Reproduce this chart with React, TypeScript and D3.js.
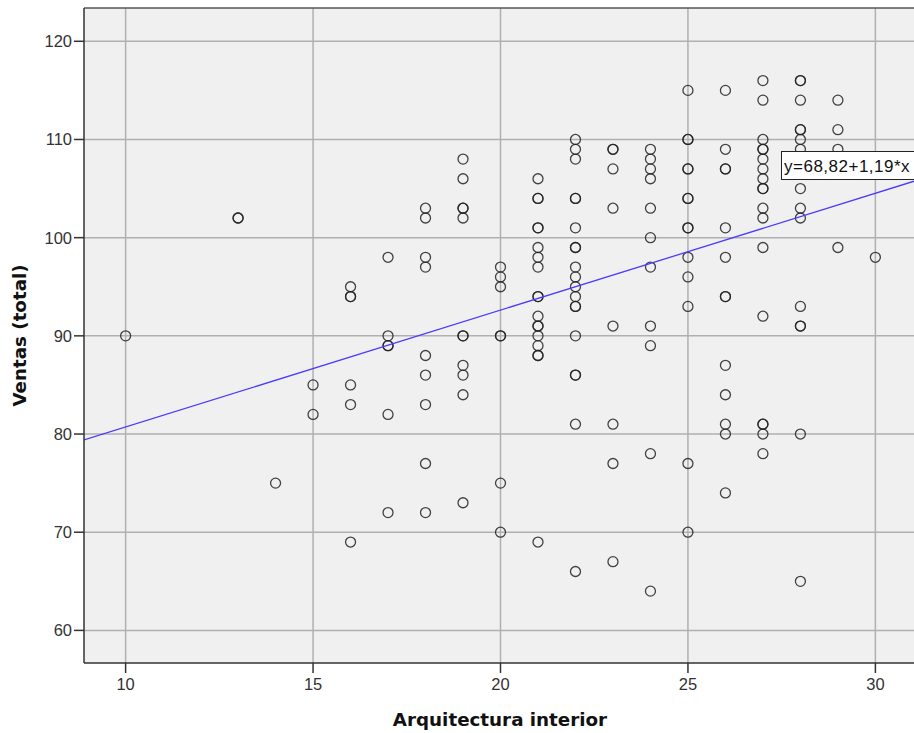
import React from "react";
import * as d3 from "d3";

// Puntuación de arquitectura interior (eje X) y ventas observadas en cada puntuación
const puntuaciones = [10, 13, 14, 15, 16, 17, 18, 19, 20, 21, 22, 23, 24, 25, 26, 27, 28, 29, 30];
const ventasPorPuntuacion = [
  [90],
  [102, 102],
  [75],
  [85, 82],
  [95, 94, 94, 85, 83, 69],
  [98, 90, 89, 89, 82, 72],
  [103, 102, 98, 97, 88, 86, 83, 77, 72],
  [108, 106, 103, 103, 102, 90, 90, 87, 86, 84, 73],
  [97, 96, 95, 90, 90, 75, 70],
  [106, 104, 104, 101, 101, 99, 98, 97, 94, 94, 92, 91, 91, 90, 89, 88, 88, 69],
  [110, 109, 108, 104, 104, 101, 99, 99, 97, 96, 95, 94, 93, 93, 90, 86, 86, 81, 66],
  [109, 109, 107, 103, 91, 81, 77, 67],
  [109, 108, 107, 106, 103, 100, 97, 91, 89, 78, 64],
  [115, 110, 110, 107, 107, 104, 104, 101, 101, 98, 96, 93, 77, 70],
  [115, 109, 107, 107, 101, 98, 94, 94, 87, 84, 81, 80, 74],
  [116, 114, 110, 109, 109, 108, 107, 106, 105, 105, 103, 102, 99, 92, 81, 81, 80, 78],
  [116, 116, 114, 111, 111, 110, 109, 108, 107, 105, 103, 102, 93, 91, 91, 80, 65],
  [114, 111, 109, 99],
  [98],
];

const xTicks = [10, 15, 20, 25, 30];
const yTicks = [60, 70, 80, 90, 100, 110, 120];

// recta de ajuste: y = 68,82 + 1,19 * x
const intercepto = 68.82;
const pendiente = 1.19;
const etiquetaAjuste = "y=68,82+1,19*x";

const W = 914;
const H = 733;
const left = 84;
const right = 914;
const top = 8;
const bottom = 663;

export default function App() {
  const x = d3.scaleLinear().domain([8.89, 31.03]).range([left, right]);
  const y = d3.scaleLinear().domain([56.68, 123.39]).range([bottom, top]);

  const puntos = puntuaciones.flatMap((p, i) =>
    ventasPorPuntuacion[i].map((v) => ({ p, v }))
  );

  const recta = d3
    .line<number>()
    .x((d) => x(d))
    .y((d) => y(intercepto + pendiente * d));
  const xExtremos = x.domain();

  const font = "'Liberation Sans', Arial, sans-serif";
  const fontTitulo = "'DejaVu Sans', 'Liberation Sans', sans-serif";

  return (
    <svg
      width={W}
      height={H}
      style={{ position: "absolute", left: 0, top: 0, background: "#fff" }}
      fontFamily={font}
    >
      <defs>
        <clipPath id="area">
          <rect x={left} y={top} width={right - left} height={bottom - top} />
        </clipPath>
      </defs>

      <rect x={left} y={top} width={right - left + 10} height={bottom - top} fill="#f0f0f0" />

      {/* rejilla */}
      {xTicks.map((t) => (
        <line key={"gx" + t} x1={x(t)} x2={x(t)} y1={top} y2={bottom} stroke="#b0b0b0" strokeWidth={1.5} />
      ))}
      {yTicks.map((t) => (
        <line key={"gy" + t} x1={left} x2={right} y1={y(t)} y2={y(t)} stroke="#b0b0b0" strokeWidth={1.5} />
      ))}

      <g clipPath="url(#area)">
        {puntos.map((d, i) => (
          <circle
            key={i}
            cx={x(d.p)}
            cy={y(d.v)}
            r={5}
            fill="none"
            stroke="#222"
            strokeOpacity={0.85}
            strokeWidth={1.3}
          />
        ))}
        <path d={recta(xExtremos) || ""} fill="none" stroke="#4a3cff" strokeWidth={1.3} />
      </g>

      {/* marco */}
      <line x1={left} x2={right} y1={top} y2={top} stroke="#555" strokeWidth={1.5} />
      <line x1={left} x2={left} y1={top} y2={bottom} stroke="#333" strokeWidth={1.5} />
      <line x1={left} x2={right} y1={bottom} y2={bottom} stroke="#333" strokeWidth={1.5} />

      {/* eje Y */}
      {yTicks.map((t) => (
        <g key={"ty" + t}>
          <line x1={left - 10} x2={left} y1={y(t)} y2={y(t)} stroke="#333" strokeWidth={1.5} />
          <text x={left - 12} y={y(t)} dy="0.36em" textAnchor="end" fontSize={16.5} fill="#333">
            {t}
          </text>
        </g>
      ))}

      {/* eje X */}
      {xTicks.map((t) => (
        <g key={"tx" + t}>
          <line x1={x(t)} x2={x(t)} y1={bottom} y2={bottom + 10} stroke="#333" strokeWidth={1.5} />
          <text x={x(t)} y={bottom + 27} textAnchor="middle" fontSize={16.5} fill="#333">
            {t}
          </text>
        </g>
      ))}

      <text
        transform={`translate(26, ${(top + bottom) / 2}) rotate(-90)`}
        textAnchor="middle"
        fontFamily={fontTitulo}
        fontSize={18.3}
        fontWeight="bold"
        fill="#111"
      >
        Ventas (total)
      </text>
      <text
        x={(left + right) / 2 + 1}
        y={726}
        textAnchor="middle"
        fontFamily={fontTitulo}
        fontSize={18.3}
        fontWeight="bold"
        fill="#111"
      >
        Arquitectura interior
      </text>

      {/* etiqueta de la recta */}
      <rect x={781.5} y={151.5} width={140} height={28} fill="#fff" stroke="#222" strokeWidth={1} />
      <text x={784} y={172} fontSize={17} letterSpacing={0.5} fill="#111">
        {etiquetaAjuste}
      </text>
    </svg>
  );
}
